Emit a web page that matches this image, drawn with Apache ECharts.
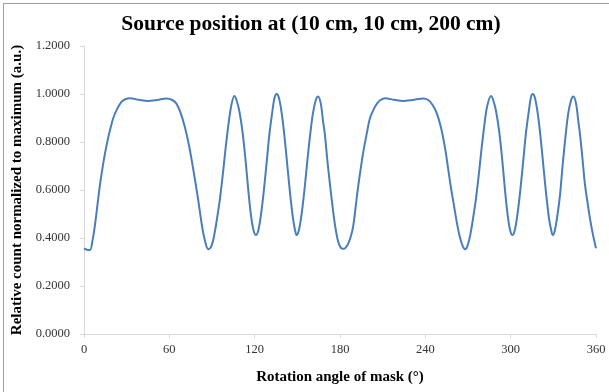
<!DOCTYPE html>
<html>
<head>
<meta charset="utf-8">
<script src="https://cdn.jsdelivr.net/npm/echarts@6/dist/echarts.min.js"></script>
<style>
  html, body { margin: 0; padding: 0; background: #fff; }
  #frame { position: absolute; left: 3px; top: 3px; width: 606px; height: 389px;
           border-left: 1px solid #a0a0a0; border-top: 1px solid #a0a0a0; }
  #chart { position: absolute; left: 0; top: 0; width: 609px; height: 392px; }
</style>
</head>
<body>
<div id="frame"></div>
<div id="chart"></div>
<script>
// rotation angle (deg) and normalized counts
const angles = [
  0, 2, 4.2, 6, 7.7, 9.5, 11.2, 13.5, 16, 18.3, 20.6, 23.5, 26.5, 29, 32.3, 38.5, 45, 51.5, 58, 62,
  65, 68, 71, 74, 77, 80, 83, 85, 87.4,
  89.5, 91.5, 93.5, 95.5, 97.5, 99.5, 101.5, 103.5, 105.7, 107.5, 109.5, 111.5, 113.5, 115.5, 117.5, 119.3, 120.9,
  122.5, 124.5, 126.5, 128.5, 130.5, 132.5, 134, 135.4, 137, 139, 141, 143, 145, 147, 148.5, 149.5,
  151, 153, 155, 157, 159, 161, 163, 164.6, 166.5, 168, 169.4, 171, 173, 175, 176.5, 178.5, 180.5, 182.3,
  184, 186, 187.8, 189.4, 191, 192.9, 194.6, 196.4, 198.8, 201.1, 204, 206, 208.5, 211.7, 218, 224.5, 231, 238.6,
  242, 245, 248, 251, 254, 256, 258, 260, 262, 264, 266, 267.9,
  269.5, 271.5, 273.5, 275.5, 277.5, 279.5, 281.5, 283.5, 286.2, 288, 290, 292, 294, 296, 298, 299.7, 301.2,
  302.8, 304.8, 306.8, 308.8, 310.8, 312.8, 314.2, 315.5, 317, 319, 321, 323, 325, 327, 328.6, 329.6,
  331, 333, 334.7, 336.5, 338.5, 340.5, 342.5, 344.1, 346, 347.5, 348.8, 350.5, 352.3, 354, 355.8, 358, 360
];
const counts = [
  0.357, 0.351, 0.350, 0.390, 0.454, 0.540, 0.620, 0.710, 0.790, 0.850, 0.900, 0.940, 0.968, 0.978, 0.982, 0.976, 0.971, 0.975, 0.981, 0.975,
  0.960, 0.920, 0.860, 0.780, 0.680, 0.570, 0.450, 0.390, 0.353,
  0.365, 0.410, 0.480, 0.560, 0.660, 0.770, 0.870, 0.950, 0.992, 0.970, 0.920, 0.840, 0.730, 0.600, 0.490, 0.430, 0.412,
  0.430, 0.500, 0.600, 0.720, 0.840, 0.930, 0.985, 1.000, 0.985, 0.920, 0.820, 0.700, 0.580, 0.480, 0.430, 0.412,
  0.430, 0.500, 0.600, 0.720, 0.830, 0.920, 0.975, 0.990, 0.960, 0.890, 0.830, 0.730, 0.620, 0.520, 0.454, 0.390, 0.360, 0.355,
  0.360, 0.380, 0.410, 0.454, 0.530, 0.620, 0.690, 0.760, 0.835, 0.900, 0.940, 0.960, 0.975, 0.982, 0.976, 0.971, 0.975, 0.981,
  0.975, 0.955, 0.920, 0.860, 0.770, 0.690, 0.610, 0.540, 0.470, 0.410, 0.370, 0.353,
  0.365, 0.410, 0.480, 0.560, 0.660, 0.770, 0.870, 0.950, 0.992, 0.970, 0.920, 0.840, 0.730, 0.600, 0.490, 0.430, 0.412,
  0.430, 0.500, 0.600, 0.720, 0.840, 0.930, 0.985, 1.000, 0.985, 0.920, 0.820, 0.700, 0.580, 0.480, 0.430, 0.412,
  0.430, 0.500, 0.580, 0.700, 0.820, 0.920, 0.975, 0.990, 0.960, 0.890, 0.830, 0.730, 0.620, 0.550, 0.480, 0.410, 0.357
];
const yTicks = [0, 0.2, 0.4, 0.6, 0.8, 1.0, 1.2];
const xTicks = [0, 60, 120, 180, 240, 300, 360];

const chart = echarts.init(document.getElementById("chart"), null, { renderer: "canvas" });
const serif = "'Liberation Serif', 'DejaVu Serif', serif";
const axisGray = "#d9d9d9";

chart.setOption({
  animation: false,
  title: {
    text: "Source position at (10 cm, 10 cm, 200 cm)",
    left: 306,
    textAlign: "center",
    top: 8,
    textStyle: { fontFamily: serif, fontWeight: "bold", fontSize: 21.5, color: "#000" }
  },
  grid: { left: 84, right: 13, top: 46, bottom: 58, outerBoundsMode: "none" },
  xAxis: {
    type: "value",
    min: xTicks[0],
    max: xTicks[xTicks.length - 1],
    interval: 60,
    name: "Rotation angle of mask (°)",
    nameLocation: "middle",
    nameGap: 36,
    nameTextStyle: { fontFamily: serif, fontWeight: "bold", fontSize: 15, color: "#000" },
    axisLine: { show: true, lineStyle: { color: axisGray, width: 1 } },
    axisTick: { show: true, length: 4, lineStyle: { color: axisGray } },
    splitLine: { show: false },
    axisLabel: { fontFamily: serif, fontSize: 12.5, color: "#333", margin: 9 }
  },
  yAxis: {
    type: "value",
    min: yTicks[0],
    max: yTicks[yTicks.length - 1],
    interval: 0.2,
    name: "Relative count normalized to maximum (a.u.)",
    nameLocation: "middle",
    nameGap: 57,
    nameTextStyle: { fontFamily: serif, fontWeight: "bold", fontSize: 15, color: "#000" },
    axisLine: { show: true, lineStyle: { color: axisGray, width: 1 } },
    axisTick: { show: true, length: 4, lineStyle: { color: axisGray } },
    splitLine: { show: false },
    axisLabel: {
      fontFamily: serif, fontSize: 12.5, color: "#333", margin: 14,
      formatter: v => v.toFixed(4)
    }
  },
  series: [{
    type: "line",
    data: angles.map((a, i) => [a, counts[i]]),
    smooth: 0.35,
    showSymbol: false,
    lineStyle: { color: "#4a7ebb", width: 2 },
    itemStyle: { color: "#4a7ebb" }
  }]
});
</script>
</body>
</html>
